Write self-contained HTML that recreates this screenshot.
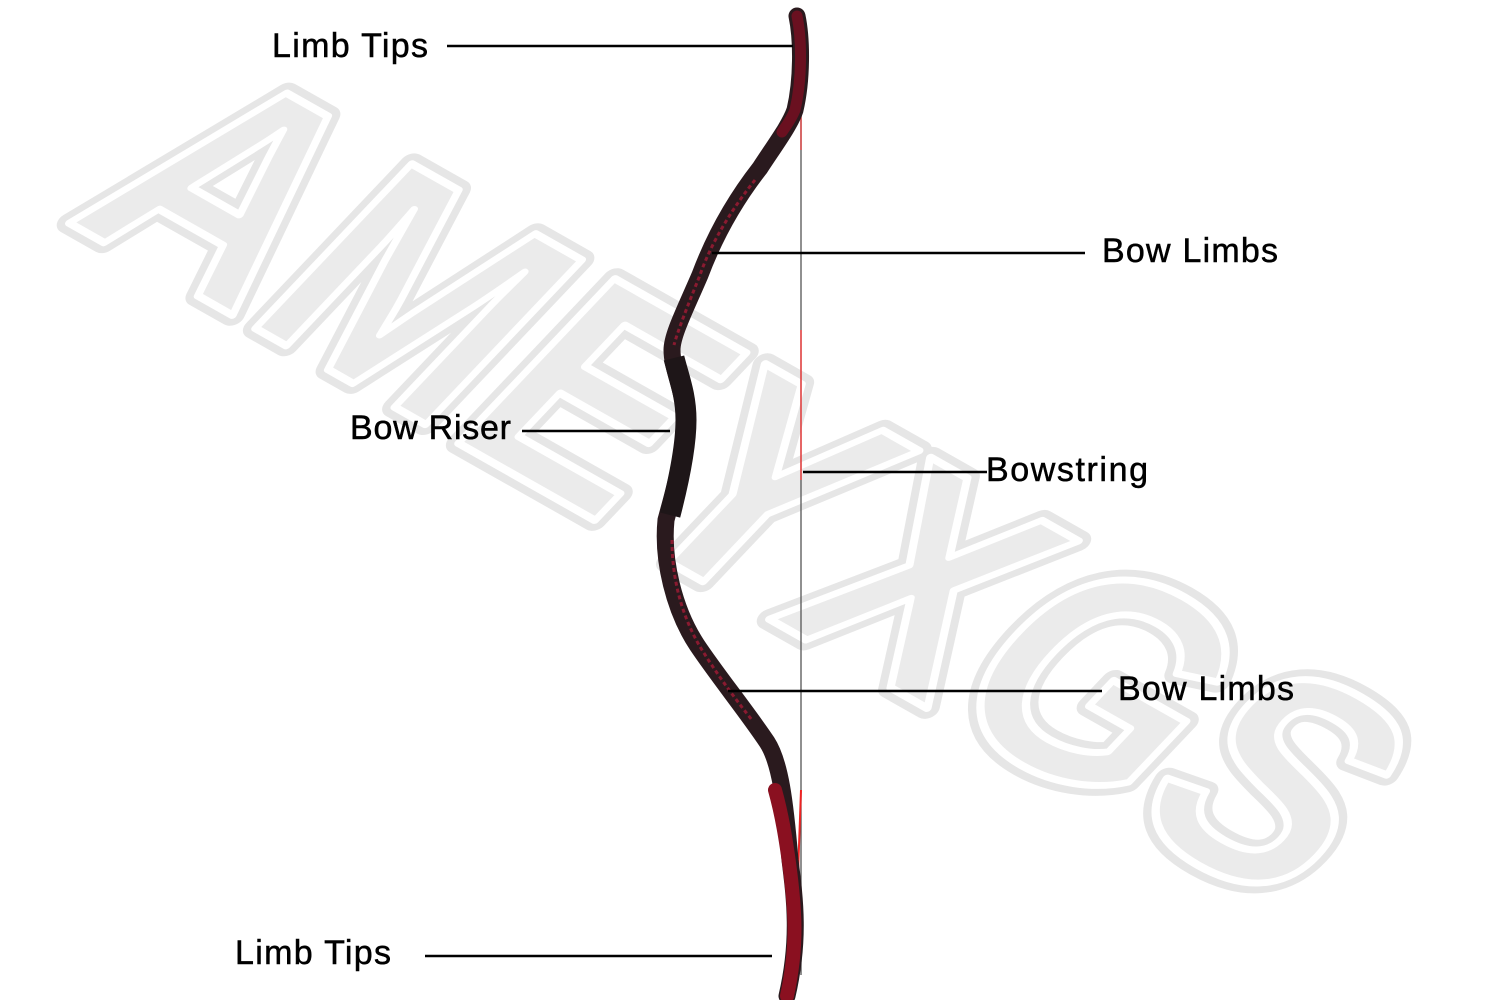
<!DOCTYPE html>
<html><head><meta charset="utf-8"><style>
html,body{margin:0;padding:0;background:#fff;}
svg{display:block;}
</style></head><body>
<svg width="1500" height="1000" viewBox="0 0 1500 1000" xmlns="http://www.w3.org/2000/svg">
<rect width="1500" height="1000" fill="#fff"/>
<!-- watermark -->
<g transform="translate(205,70) rotate(29.5) skewX(-14)">
<text x="0" y="200" font-family="Liberation Sans, sans-serif" font-weight="bold" font-size="320" textLength="1400" lengthAdjust="spacingAndGlyphs" fill="#efefef" stroke="#e6e6e6" stroke-width="24" stroke-linejoin="round">AMEYXGS</text>
<text x="0" y="200" font-family="Liberation Sans, sans-serif" font-weight="bold" font-size="320" textLength="1400" lengthAdjust="spacingAndGlyphs" fill="#ebebeb" stroke="#fff" stroke-width="8" stroke-linejoin="round">AMEYXGS</text>
</g>
<!-- bowstring -->
<line x1="801" y1="45" x2="801" y2="975" stroke="#555" stroke-width="1.3"/>
<line x1="801" y1="60" x2="801" y2="150" stroke="#d33" stroke-width="1.3"/>
<line x1="801" y1="330" x2="801" y2="480" stroke="#e44" stroke-width="1.5"/>
<line x1="801" y1="790" x2="796" y2="930" stroke="#e22" stroke-width="2"/>
<!-- bow body -->
<path d="M797,16 C802,40 802,80 795,110 C790,125 775,145 760,168 C735,200 715,235 700,275 C685,310 672,335 672,350 C672,370 684,390 685,420 C686,450 674,490 666,520 C662,560 674,610 697,645 C717,675 747,712 767,742 C780,762 785,800 790,860 C795,900 800,940 787,996"
 fill="none" stroke="#2a1a1e" stroke-width="17" stroke-linecap="round"/>
<path d="M674,358 C679,378 686,395 686,420 C686,450 677,488 670,515" fill="none" stroke="#1e1618" stroke-width="21" stroke-linecap="butt"/>
<path d="M797,16 C802,40 802,80 795,110 C791,120 786,126 782,132" fill="none" stroke="#6a1020" stroke-width="11" stroke-linecap="round"/>
<path d="M775,790 C782,815 786,840 790,870 C795,910 798,945 787,996" fill="none" stroke="#8a1020" stroke-width="14" stroke-linecap="round"/>
<path d="M755,180 C735,205 712,240 700,275 C688,305 678,330 674,345" fill="none" stroke="#8a1a30" stroke-width="3" stroke-dasharray="4 3"/>
<path d="M672,540 C672,580 682,615 699,645 C717,675 740,705 752,720" fill="none" stroke="#8a1a30" stroke-width="3" stroke-dasharray="4 3"/>
<!-- leader lines -->
<g stroke="#000" stroke-width="2.5">
<line x1="447" y1="46" x2="793" y2="46"/>
<line x1="712" y1="253" x2="1085" y2="253"/>
<line x1="522" y1="431" x2="670" y2="431"/>
<line x1="803" y1="472" x2="987" y2="472"/>
<line x1="728" y1="691" x2="1102" y2="691"/>
<line x1="425" y1="956" x2="772" y2="956"/>
</g>
<g font-family="Liberation Sans, sans-serif" font-size="34" fill="#000" stroke="#000" stroke-width="0.5" lengthAdjust="spacingAndGlyphs">
<text x="272" y="57" textLength="156">Limb Tips</text>
<text x="1102" y="262" textLength="176">Bow Limbs</text>
<text x="350" y="439" textLength="161">Bow Riser</text>
<text x="986" y="481" textLength="162">Bowstring</text>
<text x="1118" y="700" textLength="176">Bow Limbs</text>
<text x="235" y="964" textLength="156">Limb Tips</text>
</g>
</svg>
</body></html>
